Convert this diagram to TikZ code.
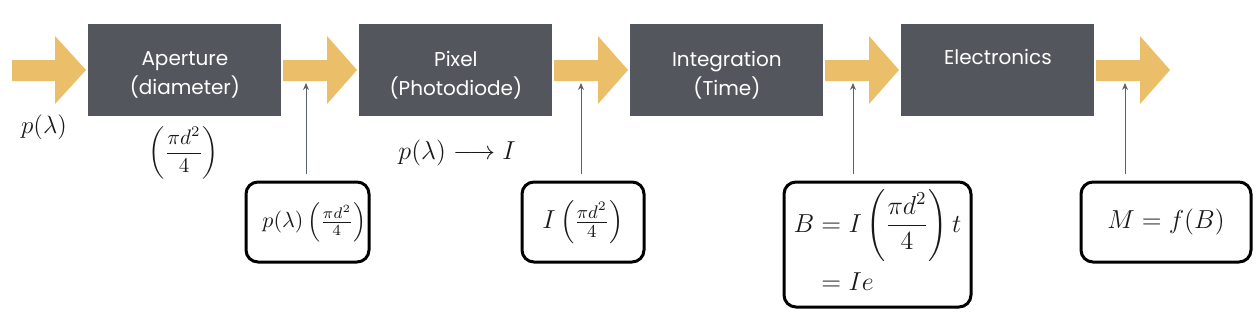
\RequirePackage{fix-cm}
\documentclass[tikz,border=0pt]{standalone}
\usepackage{amsmath}
\usepackage{fontspec}
\setsansfont{Poppins}
\usetikzlibrary{arrows.meta}
\definecolor{boxgray}{HTML}{53575D}
\definecolor{flow}{HTML}{EBBE69}
\definecolor{pointergray}{HTML}{5C6068}
\tikzset{
  stage/.style={fill=boxgray, minimum width=96.5pt, minimum height=46pt, inner sep=0pt, anchor=north west},
  stagetext/.style={text=white, font=\sffamily\fontsize{10}{14.5}\selectfont, align=center, inner sep=0pt},
  flowarrow/.style={fill=flow, draw=none},
  formula/.style={draw=black, line width=1.5pt, rounded corners=6pt, inner sep=0pt,
    anchor=north west, text=black!90},
  pointer/.style={draw=pointergray, line width=0.5pt, -{Stealth[length=3.5pt,width=3pt]},
    shorten <=3.25pt, shorten >=1pt},
  mathlabel/.style={inner sep=0pt, text=black!90}
}
\begin{document}
\begin{tikzpicture}[x=0.5pt,y=-0.5pt]
\useasboundingbox (0,0) rectangle (1257,322);
% flow arrows
\foreach \a/\b/\c in {12/55/86, 283/327/357, 554/598/628, 825/869/899, 1096/1140/1170}{
  \fill[flowarrow] (\a,60) -- (\b,60) -- (\b,36) -- (\c,70) -- (\b,104) -- (\b,81) -- (\a,81) -- cycle;
}
\coordinate (t1) at (306,81);
\coordinate (t2) at (581,81);
\coordinate (t3) at (853,81);
\coordinate (t4) at (1125,81);
% stages
\node[stage] (ap) at (88,24) {};
\node[stage] (px) at (359,24) {};
\node[stage] (in) at (630,24) {};
\node[stage] (el) at (901,24) {};
\node[stagetext] (apt) at ([yshift=-2.25pt]ap.center) {Aperture\\(diameter)};
\node[stagetext] (pxt) at ([yshift=-2.25pt]px.center) {Pixel\\(Photodiode)};
\node[stagetext] (int) at ([yshift=-2.25pt]in.center) {Integration\\(Time)};
\node[stagetext] (elt) at ([yshift=-2.75pt]el.center) {Electronics\\\strut};
% labels
\node[mathlabel, font=\fontsize{12.5}{15}\selectfont] (pin) at (44,127) {$p(\lambda)$};
\node[mathlabel, font=\fontsize{10.5}{13}\selectfont] (area) at (184,153) {$\displaystyle\left(\frac{\pi d^2}{4}\right)$};
\node[mathlabel, font=\fontsize{13}{15}\selectfont] (conv) at (457,153) {$p(\lambda)\longrightarrow I$};
% formula boxes
\node[formula, minimum width=61.5pt, minimum height=40pt, font=\fontsize{11}{13}\selectfont] (f1) at (244.5,180.5)
  {\hspace{7pt}$p(\lambda)\left(\frac{\pi d^2}{4}\right)$};
\node[formula, minimum width=61pt, minimum height=40pt, font=\fontsize{13}{15}\selectfont] (f2) at (520.5,180.5)
  {$I\left(\frac{\pi d^2}{4}\right)$};
\node[formula, minimum width=93.5pt, minimum height=62.5pt, font=\fontsize{13}{15}\selectfont] (f3) at (782.5,180.5)
  {$\begin{aligned}B&=I\left(\dfrac{\pi d^2}{4}\right)t\\&=Ie\end{aligned}$};
\node[formula, minimum width=85pt, minimum height=40pt, font=\fontsize{13}{15}\selectfont] (f4) at (1079.5,180.5)
  {$M=f(B)$};
% pointers
\draw[pointer] (t1 |- f1.north) -- (t1);
\draw[pointer] (t2 |- f2.north) -- (t2);
\draw[pointer] (t3 |- f3.north) -- (t3);
\draw[pointer] (t4 |- f4.north) -- (t4);
\end{tikzpicture}
\end{document}
